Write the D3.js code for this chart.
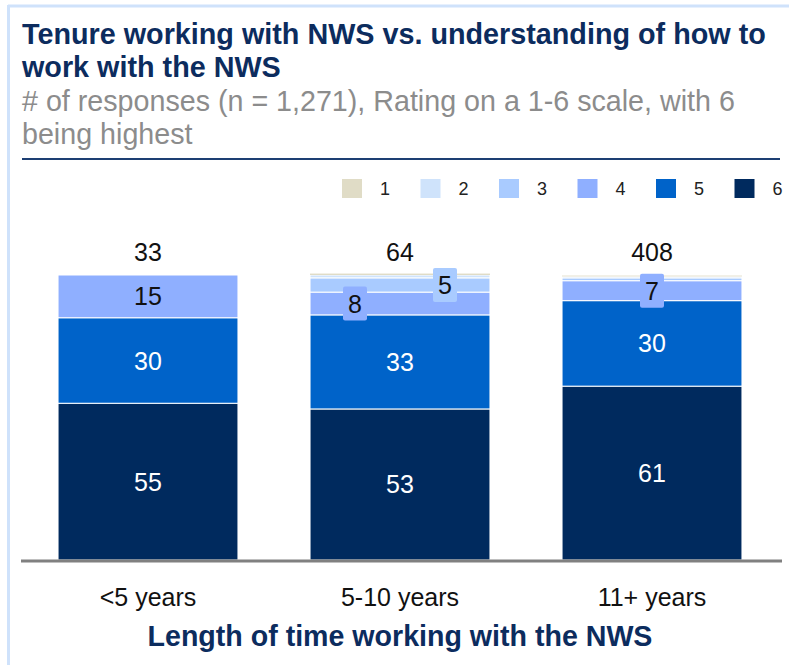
<!DOCTYPE html>
<html><head><meta charset="utf-8">
<script src="https://cdn.jsdelivr.net/npm/d3@7"></script>
<style>body{margin:0;background:#fff}svg{display:block;font-family:"Liberation Sans",Arial,sans-serif}</style>
</head><body><svg id="c" width="789" height="665"></svg>
<script>
const categories = ["<5 years", "5-10 years", "11+ years"];
const ratings = ["1", "2", "3", "4", "5", "6"];
const rating1 = [0, 0.5, 0.3];
const rating2 = [0, 1, 0.5];
const rating3 = [0, 5, 1];
const rating4 = [15, 8, 7];
const rating5 = [30, 33, 30];
const rating6 = [55, 53, 61];
const totals = [33, 64, 408];
const colors = ["#e0dcc6", "#cfe3fb", "#a9cbff", "#8fafff", "#0063c9", "#002a5e"];

const svg = d3.select("#c");
const W = 789, H = 665;
const series = [rating1, rating2, rating3, rating4, rating5, rating6];
const data = categories.map((c, i) => {
  const o = {cat: c};
  ratings.forEach((r, k) => o[r] = series[k][i]);
  return o;
});
const stack = d3.stack().keys(["6", "5", "4", "3", "2", "1"]);
const stacked = stack(data);

const x = d3.scaleBand().domain(categories).range([22, 778]).paddingInner(0.286).paddingOuter(0.143);
const y = d3.scaleLinear().domain([0, 100]).range([560, 275]);
const color = d3.scaleOrdinal().domain(ratings).range(colors);

// frame
svg.append("line").attr("x1", 8).attr("x2", W).attr("y1", 6).attr("y2", 6).attr("stroke", "#cfe2fb").attr("stroke-width", 3);
svg.append("line").attr("x1", 8.5).attr("x2", 8.5).attr("y1", 5).attr("y2", H).attr("stroke", "#cfe2fb").attr("stroke-width", 3);

// titles
function fitText(sel, width) {
  const len = sel.node().getComputedTextLength();
  const fs = parseFloat(sel.attr("font-size"));
  sel.attr("font-size", fs * width / len);
}
const t1 = svg.append("text").attr("x", 22).attr("y", 44).attr("font-size", 24).attr("font-weight", "bold").attr("fill", "#0c2c5e").text("Tenure working with NWS vs. understanding of how to");
fitText(t1, 744);
svg.append("text").attr("x", 22).attr("y", 77).attr("font-size", t1.attr("font-size")).attr("font-weight", "bold").attr("fill", "#0c2c5e").text("work with the NWS");
const s1 = svg.append("text").attr("x", 22).attr("y", 111).attr("font-size", 22).attr("fill", "#8c8c8c").text("# of responses (n = 1,271), Rating on a 1-6 scale, with 6");
fitText(s1, 713);
svg.append("text").attr("x", 22).attr("y", 144).attr("font-size", s1.attr("font-size")).attr("fill", "#8c8c8c").text("being highest");
svg.append("line").attr("x1", 22).attr("x2", 780).attr("y1", 159).attr("y2", 159).attr("stroke", "#1d3f73").attr("stroke-width", 2);

// legend
const leg = svg.append("g");
ratings.forEach((r, i) => {
  const lx = 342 + i * 78.5;
  leg.append("rect").attr("x", lx).attr("y", 179).attr("width", 20).attr("height", 19).attr("fill", color(r));
  leg.append("text").attr("x", lx + 38).attr("y", 195).attr("font-size", 18).attr("fill", "#222").text(r);
});

// bars
const g = svg.append("g");
stacked.forEach(s => {
  g.selectAll(null).data(s).enter().append("rect")
    .attr("x", d => x(d.data.cat))
    .attr("width", x.bandwidth())
    .attr("y", d => y(d[1]))
    .attr("height", d => Math.max(0, y(d[0]) - y(d[1])))
    .attr("fill", color(s.key))
    .attr("stroke", "#fff").attr("stroke-width", s.key === "1" ? 0 : 1);
});

// baseline
svg.append("line").attr("x1", 21).attr("x2", 782).attr("y1", 561).attr("y2", 561).attr("stroke", "#808080").attr("stroke-width", 3);

// segment labels
const lbl = svg.append("g").attr("text-anchor", "middle").attr("font-size", 25);
stacked.forEach(s => {
  s.forEach((d, i) => {
    const v = d.data[s.key];
    if (v < 4.5) return;
    const cx = x(d.data.cat) + x.bandwidth() / 2;
    const cy = (y(d[0]) + y(d[1])) / 2;
    const small = (y(d[0]) - y(d[1])) < 30;
    let dx = 0;
    if (small && i === 1) dx = s.key === "4" ? -45 : 45;
    if (small) {
      lbl.append("rect").attr("x", cx + dx - 12).attr("y", cy - 17).attr("width", 24).attr("height", 34).attr("rx", 2)
        .attr("fill", color(s.key));
    }
    lbl.append("text").attr("x", cx + dx).attr("y", cy + 9)
      .attr("fill", (s.key === "5" || s.key === "6") ? "#fff" : "#111")
      .text(Math.round(v));
  });
});

// totals
svg.append("g").selectAll("text").data(categories).enter().append("text")
  .attr("x", d => x(d) + x.bandwidth() / 2).attr("y", 261).attr("text-anchor", "middle")
  .attr("font-size", 25).attr("fill", "#111").text((d, i) => totals[i]);

// x axis labels
const xa = svg.append("g");
xa.selectAll("text").data(categories).enter().append("text")
  .attr("x", d => x(d) + x.bandwidth() / 2).attr("y", 606).attr("text-anchor", "middle")
  .attr("font-size", 25).attr("fill", "#111").text(d => d);
const xt = svg.append("text").attr("x", 400).attr("y", 646).attr("text-anchor", "middle").attr("font-size", 23)
  .attr("font-weight", "bold").attr("fill", "#0c2c5e").text("Length of time working with the NWS");
fitText(xt, 505);
</script></body></html>
